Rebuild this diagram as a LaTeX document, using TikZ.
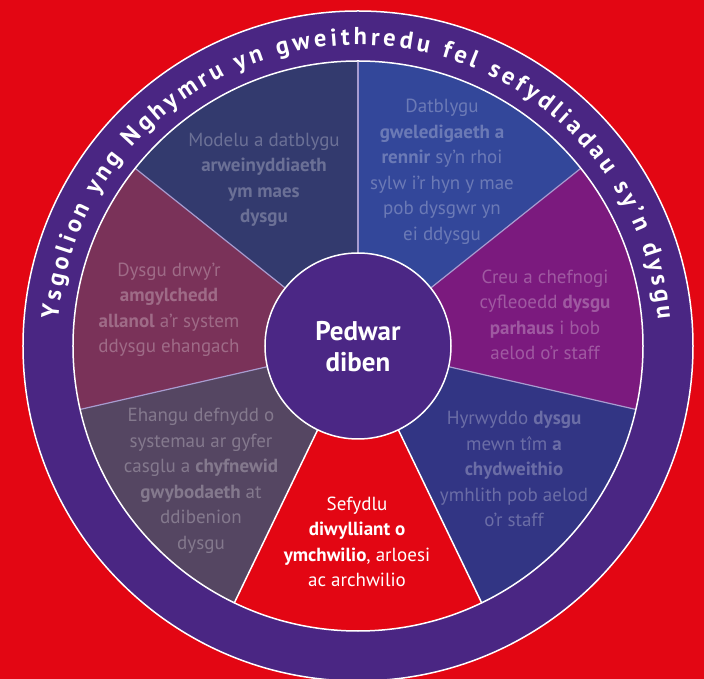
\documentclass[tikz,border=0pt]{standalone}
\usepackage{fontspec}
\setmainfont{PT Sans}
\usetikzlibrary{decorations.text}

\definecolor{bgred}{HTML}{E30613}
\definecolor{ringpurple}{HTML}{4A2683}
\definecolor{hubpurple}{HTML}{4B2785}
\definecolor{colModelu}{HTML}{333A6E}
\definecolor{colDatblygu}{HTML}{33479A}
\definecolor{colCreu}{HTML}{7B1A7E}
\definecolor{colHyrwyddo}{HTML}{323584}
\definecolor{colEhangu}{HTML}{554662}
\definecolor{colDysgu}{HTML}{7A3259}
\definecolor{lavender}{HTML}{A89CD0}

\tikzstyle{segtext} = [align=center, text=white, text opacity=0.28, font=\fontsize{19}{25.5}\selectfont]
\tikzstyle{divider} = [draw=lavender, line width=1.2pt]
\tikzstyle{rim} = [draw=white, line width=1.5pt]
\newcommand{\ringfont}{\bfseries\fontsize{24.5}{24.5}\selectfont}

\begin{document}
\begin{tikzpicture}[x=1pt,y=1pt]
	\useasboundingbox (-358,-333) rectangle (346,346);
	\fill[bgred] (-358,-333) rectangle (346,346);

	% outer ring
	\fill[ringpurple] (0,0) circle[radius=335];
	\draw[rim] (0,0) circle[radius=335];

	% the seven slices
	\fill[colDatblygu] (0,0) -- (38.57:285) arc[start angle=38.57, end angle=90, radius=285] -- cycle;
	\fill[colModelu] (0,0) -- (90:285) arc[start angle=90, end angle=141.43, radius=285] -- cycle;
	\fill[colDysgu] (0,0) -- (141.43:285) arc[start angle=141.43, end angle=192.86, radius=285] -- cycle;
	\fill[colEhangu] (0,0) -- (192.86:285) arc[start angle=192.86, end angle=244.29, radius=285] -- cycle;
	\fill[bgred] (0,0) -- (244.29:285) arc[start angle=244.29, end angle=295.71, radius=285] -- cycle;
	\fill[colHyrwyddo] (0,0) -- (295.71:285) arc[start angle=295.71, end angle=347.14, radius=285] -- cycle;
	\fill[colCreu] (0,0) -- (347.14:285) arc[start angle=347.14, end angle=398.57, radius=285] -- cycle;

	\draw[divider] (90:93) -- (90:285);
	\draw[divider] (38.57:93) -- (38.57:285);
	\draw[divider] (141.43:93) -- (141.43:285);
	\draw[divider] (192.86:93) -- (192.86:285);
	\draw[divider] (347.14:93) -- (347.14:285);
	\draw[rim] (244.29:93) -- (244.29:285);
	\draw[rim] (295.71:93) -- (295.71:285);
	\draw[rim] (0,0) circle[radius=285];

	% title round the ring
	\path[decorate, decoration={text along path, text color=white, text align=fit to path,
		text={|\ringfont|Ysgolion yng Nghymru yn gweithredu fel sefydliadau sy’n dysgu}}]
		(175:301) arc[start angle=175, end angle=5, radius=301];

	% hub
	\node[circle, fill=hubpurple, rim, minimum size=186pt, inner sep=0pt] (hub) at (0,0) {};
	\node[align=center, text=white, font=\bfseries\fontsize{27}{31}\selectfont] (diben) at (0,-1) {Pedwar\\diben};

	\node[segtext] (modelu) at (-94,166) {Modelu a datblygu\\\textbf{arweinyddiaeth}\\\textbf{ym maes}\\\textbf{dysgu}};
	\node[segtext] (datblygu) at (84,174) {Datblygu\\\textbf{gweledigaeth a}\\\textbf{rennir} sy’n rhoi\\sylw i’r hyn y mae\\pob dysgwr yn\\ei ddysgu};
	\node[segtext] (creu) at (187,31) {Creu a chefnogi\\cyfleoedd \textbf{dysgu}\\\textbf{parhaus} i bob\\aelod o’r staff};
	\node[segtext] (hyrwyddo) at (156,-123) {Hyrwyddo \textbf{dysgu}\\mewn tîm \textbf{a}\\\textbf{chydweithio}\\ymhlith pob aelod\\o’r staff};
	\node[segtext, text opacity=1] (sefydlu) at (-1,-196) {Sefydlu\\\textbf{diwylliant o}\\\textbf{ymchwilio}, arloesi\\ac archwilio};
	\node[segtext] (ehangu) at (-157,-135) {Ehangu defnydd o\\systemau ar gyfer\\casglu a \textbf{chyfnewid}\\\textbf{gwybodaeth} at\\ddibenion\\dysgu};
	\node[segtext] (drwy) at (-189,36) {Dysgu drwy’r\\\textbf{amgylchedd}\\\textbf{allanol} a’r system\\ddysgu ehangach};
\end{tikzpicture}
\end{document}
